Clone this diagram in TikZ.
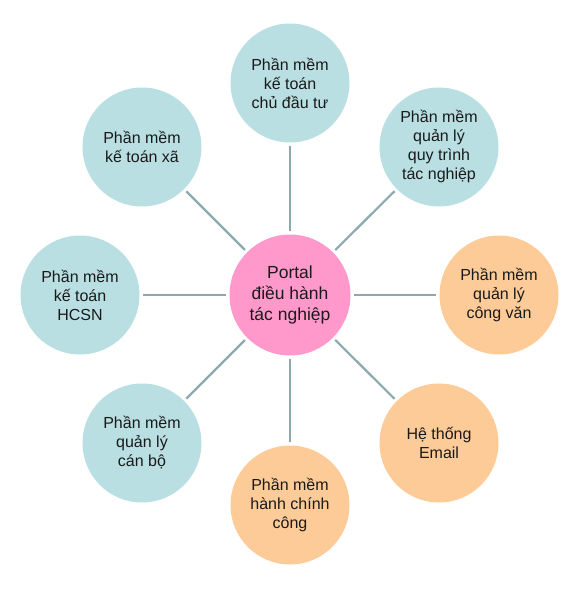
\documentclass[tikz,border=0pt]{standalone}
\usepackage{fontspec}
\setmainfont{Liberation Sans}
\definecolor{tealc}{HTML}{B9DFE2}
\definecolor{orangec}{HTML}{FDCB97}
\definecolor{pinkc}{HTML}{FF99CC}
\definecolor{linec}{HTML}{8EA9AE}
\definecolor{txt}{HTML}{1A1A1A}
\tikzset{
  bub/.style={circle, minimum size=119pt, inner sep=0pt, align=center, text=txt,
    font=\fontsize{16}{19}\selectfont},
  tealbub/.style={bub, fill=tealc},
  orangebub/.style={bub, fill=orangec},
  hub/.style={circle, minimum size=121pt, inner sep=0pt, align=center, fill=pinkc, text=txt,
    font=\fontsize{17.5}{21}\selectfont},
  link/.style={draw=linec, line width=2.2pt, shorten <=3pt, shorten >=3pt}
}
\begin{document}
\begin{tikzpicture}[x=1pt,y=-1pt]
\useasboundingbox (0,0) rectangle (578,589);
\node[hub] (c) at (290,295) {Portal\\điều hành\\tác nghiệp};
\node[tealbub] (t) at (290,83) {Phần mềm\\kế toán\\chủ đầu tư};
\node[tealbub] (ur) at (439,147) {Phần mềm\\quản lý\\quy trình\\tác nghiệp};
\node[orangebub] (r) at (499,295) {Phần mềm\\quản lý\\công văn};
\node[orangebub] (lr) at (439,443) {Hệ thống\\Email};
\node[orangebub] (b) at (290,505) {Phần mềm\\hành chính\\công};
\node[tealbub] (ll) at (142,443) {Phần mềm\\quản lý\\cán bộ};
\node[tealbub] (l) at (80,295) {Phần mềm\\kế toán\\HCSN};
\node[tealbub] (ul) at (142,147) {Phần mềm\\kế toán xã};
\foreach \n in {t,ur,r,lr,b,ll,l,ul}{
  \path[link] (c) -- (\n);
}
\end{tikzpicture}
\end{document}
